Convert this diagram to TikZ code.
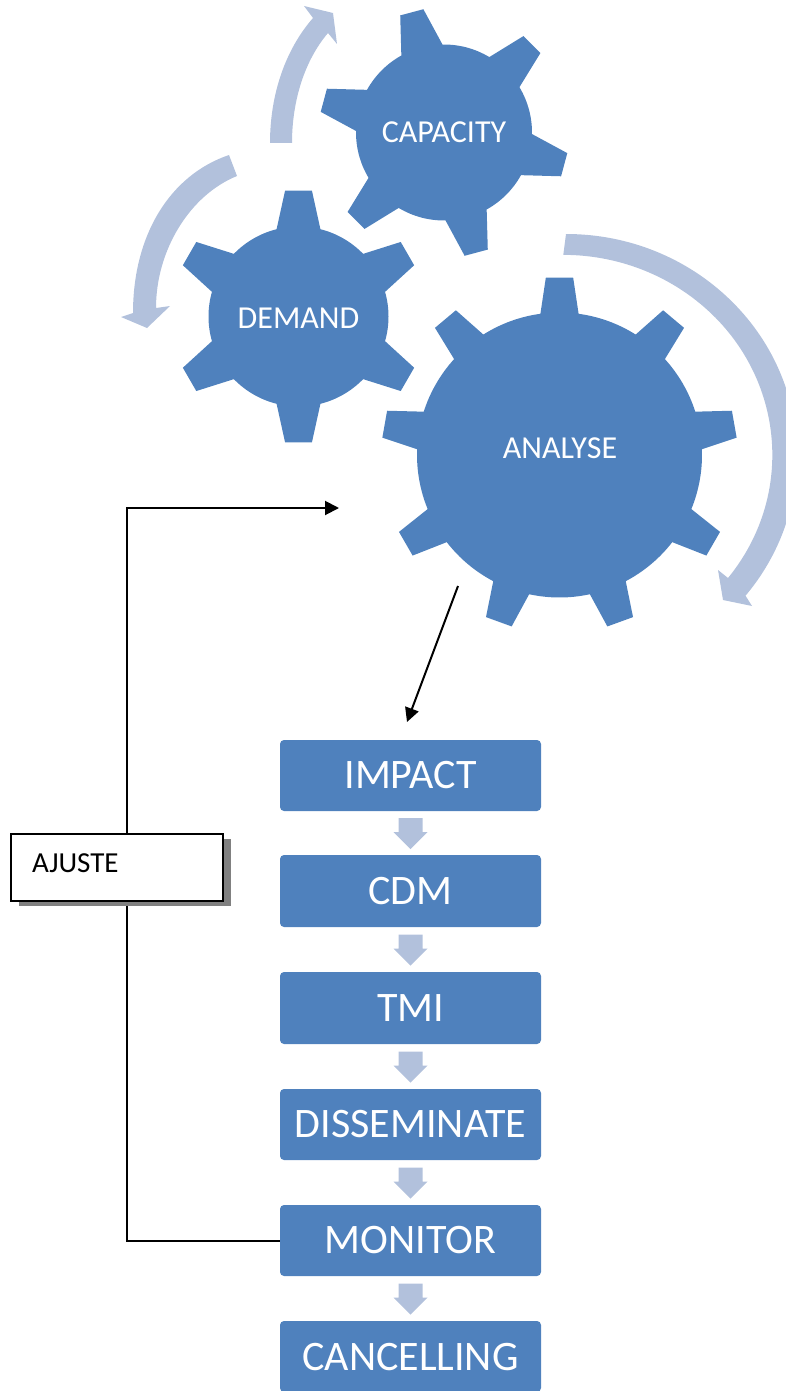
\documentclass[tikz,border=0pt]{standalone}
\usepackage{fontspec}
\setmainfont{Carlito}
\usetikzlibrary{arrows.meta,calc}
\definecolor{gearblue}{HTML}{4F81BD}
\definecolor{lightblue}{HTML}{B2C1DC}
\newcommand{\gearshape}[8]{%
  \begin{scope}[shift={(#1,#2)},x=1pt,y=1pt]
    \fill[gearblue] ({#7-#5}:#3)
      \foreach \i in {1,...,#8}{
        -- ({#7+(\i-1)*360/#8-#6}:#4)
        -- ({#7+(\i-1)*360/#8+#6}:#4)
        -- ({#7+(\i-1)*360/#8+#5}:#3)
        arc[start angle={#7+(\i-1)*360/#8+#5},end angle={#7+\i*360/#8-#5},radius=#3]
      } -- cycle;
  \end{scope}}
\newcommand{\stepdown}[2]{%
  \fill[lightblue] ($(#1.south)!.5!(#2.north)$) ++(-12,-15) -- ++(24,0) -- ++(0,14) -- ++(5,0) -- ++(-17,17) -- ++(-17,-17) -- ++(5,0) -- cycle;}
\tikzset{
  stepbox/.style={fill=gearblue,rounded corners=4pt,minimum width=261pt,inner sep=0pt,text=white,font=\fontsize{42}{42}\selectfont},
  gearlabel/.style={text=white,inner sep=0pt,font=\fontsize{32}{32}\selectfont},
  conn/.style={black,line width=2pt},
  tip/.style={-{Triangle[length=14pt,width=14pt]}}
}
\begin{document}
\begin{tikzpicture}[x=1pt,y=-1pt]
\useasboundingbox (0,0) rectangle (786,1391);
\clip (0,0) rectangle (786,1391);
% gears
\gearshape{444}{132.5}{88}{125}{14}{5.5}{105}{6}
\gearshape{298.5}{316.5}{90}{126.5}{14.1}{6.1}{90}{6}
\gearshape{559.5}{455}{142.5}{178}{7.7}{4.4}{90}{9}
\node[gearlabel] (capacity) at (444,132) {CAPACITY};
\node[gearlabel] (demand) at (298.5,318) {DEMAND};
\node[gearlabel] (analyse) at (560,448) {ANALYSE};
% circular arrows
\fill[lightblue] (270,143) .. controls (270,95) and (285,50) .. (313,18)
  -- (304,6) -- (333,13) -- (337,44) -- (328,33)
  .. controls (305,60) and (292,100) .. (292,143) -- cycle;
\fill[lightblue] (229,155) .. controls (170,175) and (133,235) .. (133,313)
  -- (121,317) -- (147,328) -- (170,306) -- (156,308)
  .. controls (156,250) and (190,195) .. (237,176) -- cycle;
\begin{scope}[shift={(566,456)},x=1pt,y=1pt]
\fill[lightblue] (90:231 and 222) arc[start angle=90,end angle=-39,x radius=231,y radius=222]
  -- (752-566,456-606) -- (723-566,456-600) -- (718-566,456-570) -- (728-566,456-578)
  arc[start angle=-38,end angle=90,x radius=209,y radius=200] -- cycle;
\end{scope}
% process boxes
\node[stepbox,minimum height=71pt] (impact) at (410.5,775.5) {IMPACT};
\node[stepbox,minimum height=72pt] (cdm) at (410.5,891) {CDM};
\node[stepbox,minimum height=72pt] (tmi) at (410.5,1008) {TMI};
\node[stepbox,minimum height=71pt] (dissem) at (410.5,1124.5) {DISSEMINATE};
\node[stepbox,minimum height=71pt] (monitor) at (410.5,1240.5) {MONITOR};
\node[stepbox,minimum height=71pt] (cancel) at (410.5,1356.5) {CANCELLING};
\stepdown{impact}{cdm}
\stepdown{cdm}{tmi}
\stepdown{tmi}{dissem}
\stepdown{dissem}{monitor}
\stepdown{monitor}{cancel}
% connectors
\coordinate (corner) at (127,1241);
\coordinate (topcorner) at (127,508);
\coordinate (feedback) at (339,508);
\coordinate (outstart) at (458,586);
\coordinate (outend) at (407,722);
\draw[conn,tip] (monitor.west |- corner) -- (corner) -- (topcorner) -- (feedback);
\draw[conn,tip] (outstart) -- (outend);
% ajuste box with shadow
\fill[black!50] (19,839) rectangle (231,906);
\node[draw=black,line width=2pt,fill=white,minimum width=212pt,minimum height=67pt,inner sep=0pt] (ajuste) at (117,867) {};
\node[anchor=west,inner sep=0pt,font=\fontsize{29}{29}\selectfont] (ajustetext) at (32,863) {AJUSTE};
\end{tikzpicture}
\end{document}
